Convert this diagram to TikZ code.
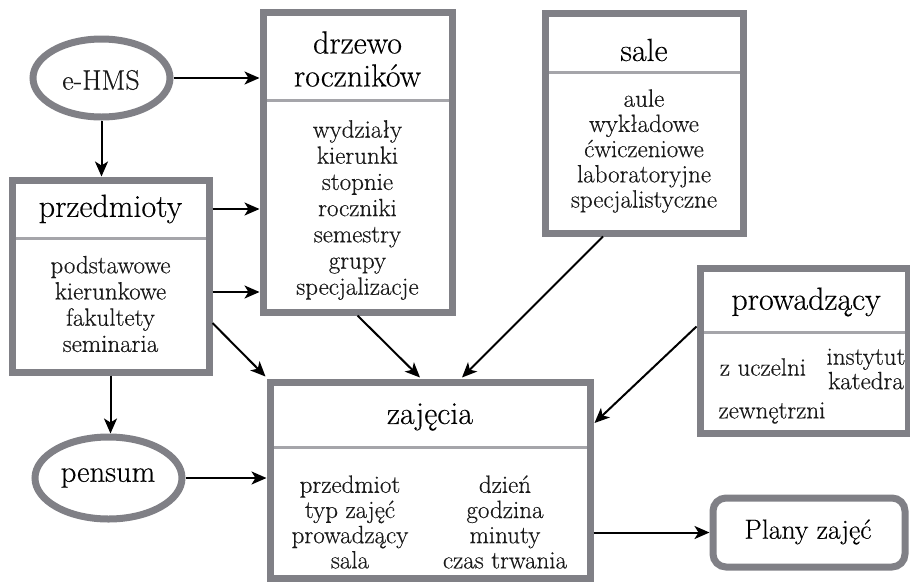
\documentclass[tikz,border=0pt]{standalone}
\usepackage{fontspec}
\setmainfont{Latin Modern Roman}[FakeBold=0.35]
\usetikzlibrary{arrows.meta,calc,shapes.geometric}
\definecolor{boxgray}{RGB}{128,128,134}
\definecolor{divgray}{RGB}{165,165,170}
\definecolor{txt}{RGB}{25,25,25}
\begin{document}
\begin{tikzpicture}[x=1pt,y=-1pt,
  box/.style={draw=boxgray,line width=7pt,rectangle,inner sep=0pt},
  oval/.style={draw=boxgray,line width=7pt,ellipse,inner sep=0pt},
  divline/.style={draw=divgray,line width=3pt,shorten <=7pt,shorten >=7pt},
  ttl/.style={font=\fontsize{32}{33}\selectfont,align=center,inner sep=0pt,text=black},
  itm/.style={font=\fontsize{25}{26.2}\selectfont,align=center,inner sep=0pt,text=txt},
  conn/.style={draw=black,line width=2pt,-{Stealth[length=15pt,width=13pt,inset=4pt]}}
]
\useasboundingbox (0,0) rectangle (910,582);
\fill[white] (0,0) rectangle (910,582);

% shapes
\node[oval,minimum width=137pt,minimum height=78pt] (ehms) at (101.5,78) {};
\node[box,minimum width=197pt,minimum height=192pt] (przedmioty) at (110.5,276) {};
\node[oval,minimum width=147pt,minimum height=82pt] (pensum) at (108.5,478) {};
\node[box,minimum width=189pt,minimum height=300pt] (drzewo) at (357.5,162) {};
\node[box,minimum width=198pt,minimum height=220pt] (sale) at (644,123) {};
\node[box,minimum width=208pt,minimum height=165pt] (prow) at (804,350.5) {};
\node[box,minimum width=320pt,minimum height=196pt] (zajecia) at (430,480) {};
\node[box,rounded corners=13pt,minimum width=192pt,minimum height=69pt] (plany) at (809,532.5) {};

% dividers
\draw[divline] (przedmioty.west |- 0,238) -- (przedmioty.east |- 0,238);
\draw[divline] (drzewo.west |- 0,100) -- (drzewo.east |- 0,100);
\draw[divline] (sale.west |- 0,72) -- (sale.east |- 0,72);
\draw[divline] (prow.west |- 0,332) -- (prow.east |- 0,332);
\draw[divline] (zajecia.west |- 0,447) -- (zajecia.east |- 0,447);

% texts
\node[itm,font=\fontsize{28}{29}\selectfont] (tehms) at (101,80) {e-HMS};
\node[ttl] (tprzed) at (110.5,209) {przedmioty};
\node[itm] (iprzed) at (110.5,304) {podstawowe\\kierunkowe\\fakultety\\seminaria};
\node[ttl,font=\fontsize{30.5}{32}\selectfont] (tpensum) at (108,478) {pensum};
\node[ttl] (tdrzewo) at (357.5,59) {drzewo\\roczników};
\node[itm] (idrzewo) at (357.5,210) {wydziały\\kierunki\\stopnie\\roczniki\\semestry\\grupy\\specjalizacje};
\node[ttl] (tsale) at (644,50) {sale};
\node[itm,font=\fontsize{25}{25.2}\selectfont] (isale) at (644,151) {aule\\wykładowe\\ćwiczeniowe\\laboratoryjne\\specjalistyczne};
\node[ttl] (tprow) at (806,302) {prowadzący};
\node[itm] (iuczelni) at (763,367) {z uczelni};
\node[itm,font=\fontsize{25}{24.5}\selectfont] (iinst) at (866,369) {instytut\\katedra};
\node[itm] (izewn) at (772,413) {zewnętrzni};
\node[ttl] (tzaj) at (430,417) {zajęcia};
\node[itm,font=\fontsize{25}{25.2}\selectfont] (izajl) at (350,522) {przedmiot\\typ zajęć\\prowadzący\\sala};
\node[itm,font=\fontsize{25}{25.2}\selectfont] (izajr) at (505,522) {dzień\\godzina\\minuty\\czas trwania};
\node[ttl,font=\fontsize{27.7}{29}\selectfont] (tplany) at (808,532) {Plany zajęć};

% connectors
\draw[conn] (ehms.east) -- (drzewo.west |- ehms.east);
\draw[conn] (ehms.south) -- (ehms.south |- przedmioty.north);
\draw[conn] (przedmioty.east |- tprzed) -- (drzewo.west |- tprzed);
\draw[conn] ($(przedmioty.east)+(0,16)$) -- ($(drzewo.west |- przedmioty.east)+(0,16)$);
\draw[conn] ($(przedmioty.east)+(0,47)$) -- ($(zajecia.north west)+(-1,-2)$);
\draw[conn] (przedmioty.south) -- (przedmioty.south |- pensum.north);
\draw[conn] (pensum.east) -- (zajecia.west |- pensum.east);
\draw[conn] (drzewo.south) -- ($(zajecia.north)+(-10,-1)$);
\draw[conn] ($(sale.south)+(-41,0)$) -- ($(zajecia.north)+(32,-1)$);
\draw[conn] ($(prow.west)+(0,-24)$) -- ($(zajecia.east)+(1,-57)$);
\draw[conn] (zajecia.east |- plany.west) -- (plany.west);
\end{tikzpicture}
\end{document}
